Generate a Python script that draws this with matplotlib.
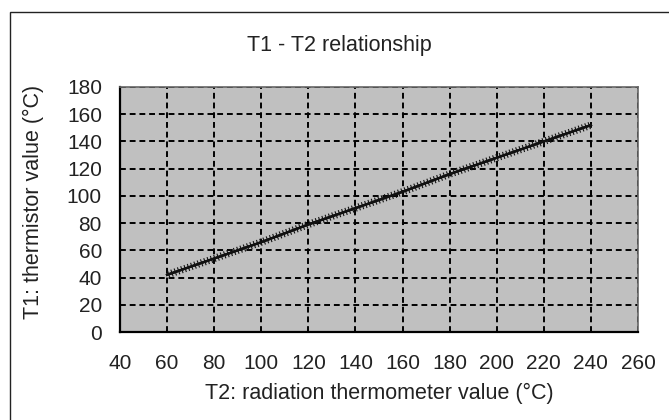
import matplotlib
matplotlib.use("Agg")
import matplotlib.pyplot as plt
import matplotlib.patches as mpatches
import matplotlib.patheffects as pe

plt.rcParams["font.family"] = ["Liberation Sans", "DejaVu Sans"]

# ─── Data ─────────────────────────────────────────────────────────────────────
t2_values = [60, 80, 100, 120, 140, 160, 180, 200, 220, 240]
t1_values = [42, 54, 66, 79, 91, 103, 116, 128, 140, 152]
x_ticks = [40, 60, 80, 100, 120, 140, 160, 180, 200, 220, 240, 260]
y_ticks = [0, 20, 40, 60, 80, 100, 120, 140, 160, 180]

W, H = 669, 420
fig = plt.figure(figsize=(W / 100, H / 100), dpi=100)

# outer frame (runs off the right/bottom edge)
frame = mpatches.Rectangle((10 / W, -0.1), 1.2, 1 - 12 / H + 0.1,
                           transform=fig.transFigure, fill=False,
                           edgecolor="#222222", linewidth=1.0, clip_on=False)
fig.patches.append(frame)

ax = fig.add_axes([120 / W, 1 - 332 / H, (638 - 120) / W, (332 - 87) / H])
ax.set_facecolor("#c0c0c0")

# dense little ticks along the line mimic the tiny markers of the original
ax.plot(t2_values, t1_values, color="#111111", linewidth=1.6,
        path_effects=[pe.withTickedStroke(angle=90, spacing=2.5, length=0.9,
                                          linewidth=0.8, foreground="#111111"),
                      pe.withTickedStroke(angle=-90, spacing=2.5, length=0.9,
                                          linewidth=0.8, foreground="#111111"),
                      pe.Normal()])

ax.set_xlim(40, 260)
ax.set_ylim(0, 180)
ax.set_xticks(x_ticks)
ax.set_yticks(y_ticks)
ax.grid(True, color="black", linestyle=(0, (3, 2)), linewidth=1.4)
ax.set_axisbelow(True)
ax.tick_params(axis="both", length=0, labelsize=15, colors="#222222")
ax.tick_params(axis="x", pad=16)
ax.tick_params(axis="y", pad=13)

for side in ("left", "bottom"):
    ax.spines[side].set_color("black")
    ax.spines[side].set_linewidth(1.6)
for side in ("top", "right"):
    ax.spines[side].set_color("#666666")
    ax.spines[side].set_linewidth(1.2)

fig.text(339 / W, 1 - 45 / H, "T1 - T2 relationship", ha="center", va="center",
         fontsize=15.5, color="#222222")
fig.text(379 / W, 1 - 393 / H, "T2: radiation thermometer value (°C)",
         ha="center", va="center", fontsize=15.5, color="#222222")
fig.text(33 / W, 1 - 202 / H, "T1: thermistor value (°C)", rotation=90,
         ha="center", va="center", fontsize=15.5, color="#222222")

fig.savefig("out.png", dpi=100)
